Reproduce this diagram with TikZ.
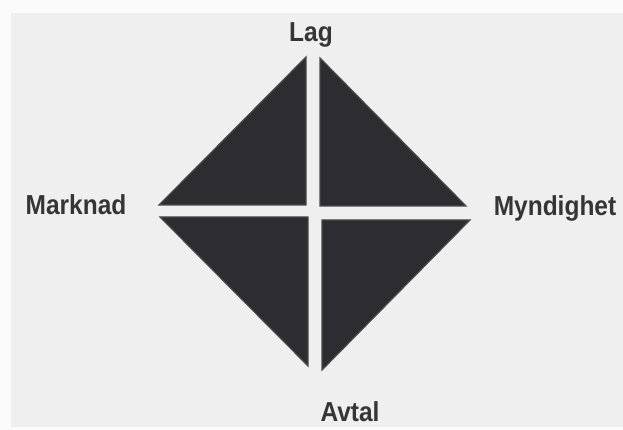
\documentclass[tikz,border=0pt]{standalone}
\usepackage{fontspec}
\usepackage{graphicx}
\setmainfont{Liberation Sans}
\definecolor{paper}{HTML}{FBFBFB}
\definecolor{scanbg}{HTML}{EFEFEF}
\definecolor{tri}{HTML}{2C2C31}
\definecolor{triedge}{HTML}{4A4A4E}
\definecolor{labelc}{HTML}{353537}
\newcommand{\tallbold}[1]{\scalebox{1}[1.12]{\fontsize{24.5}{28}\selectfont\bfseries #1}}
\begin{document}
\begin{tikzpicture}[x=1pt,y=1pt,
  piece/.style={fill=tri,draw=triedge,line width=1.2pt,line join=miter},
  lbl/.style={anchor=base,inner sep=0pt,text=labelc}]
\useasboundingbox (0,0) rectangle (623,430);
\fill[paper] (0,0) rectangle (623,430);
\fill[scanbg] (11,3) rectangle (623,417);
% four triangles
\draw[piece] (306,373) -- (159,225) -- (306,225) -- cycle;
\draw[piece] (320,372) -- (320,224) -- (466,224) -- cycle;
\draw[piece] (160,213) -- (308,213) -- (308,64) -- cycle;
\draw[piece] (322,210) -- (470,210) -- (322,60) -- cycle;
% labels
\node[lbl] (lag) at (311,388) {\tallbold{Lag}};
\node[lbl] (marknad) at (76,215) {\tallbold{Marknad}};
\node[lbl] (myndighet) at (555,214) {\tallbold{Myndighet}};
\node[lbl] (avtal) at (350,8) {\tallbold{Avtal}};
\end{tikzpicture}
\end{document}
